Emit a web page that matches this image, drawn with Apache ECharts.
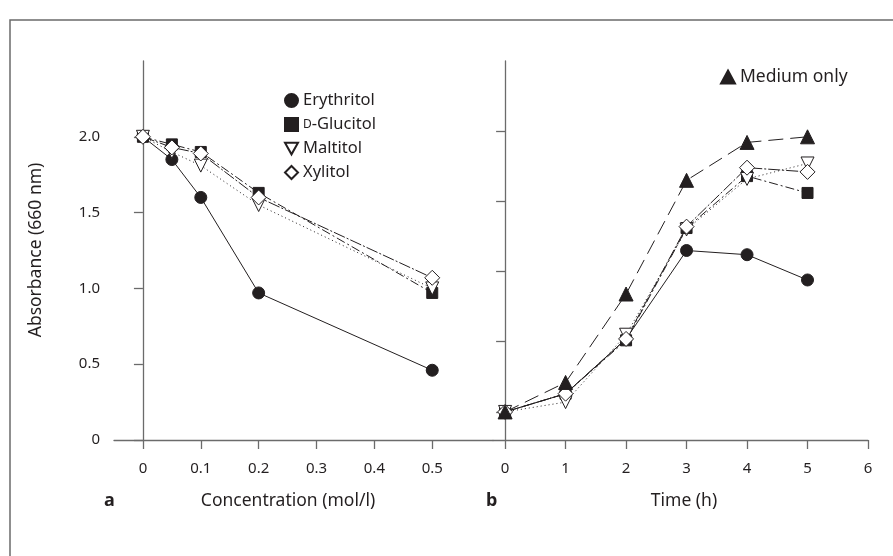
<!DOCTYPE html>
<html>
<head>
<meta charset="utf-8">
<script src="https://cdn.jsdelivr.net/npm/echarts@6/dist/echarts.min.js"></script>
<style>
  html, body { margin: 0; padding: 0; background: #fff; }
  #chart { width: 893px; height: 556px; }
</style>
</head>
<body>
<div id="chart"></div>
<script>
// panel a: absorbance vs sugar alcohol concentration
var concentration = [0, 0.05, 0.1, 0.2, 0.5];
var concErythritol = [2.0, 1.85, 1.60, 0.97, 0.46];
var concGlucitol   = [2.0, 1.95, 1.90, 1.63, 0.97];
var concMaltitol   = [2.0, 1.90, 1.81, 1.55, 1.00];
var concXylitol    = [2.0, 1.93, 1.89, 1.60, 1.07];

// panel b: absorbance vs time (axis is unlabelled in the figure)
var hours = [0, 1, 2, 3, 4, 5];
var timeErythritol = [0.20, 0.33, 0.72, 1.35, 1.32, 1.14];
var timeGlucitol   = [0.20, 0.33, 0.71, 1.51, 1.88, 1.76];
var timeMaltitol   = [0.20, 0.27, 0.75, 1.50, 1.86, 1.97];
var timeXylitol    = [0.20, 0.33, 0.72, 1.52, 1.94, 1.91];
var timeMedium     = [0.20, 0.41, 1.04, 1.85, 2.12, 2.16];

// ticks
var concTicks = [0, 0.1, 0.2, 0.3, 0.4, 0.5];
var absTicks = [0, 0.5, 1.0, 1.5, 2.0];
var hourTicks = [0, 1, 2, 3, 4, 5, 6];
var rightTicks = [0.2, 0.7, 1.2, 1.7, 2.2];

var ink = '#231f20';
var axisGrey = '#6b6b6b';
var font = 'Noto Sans';

function pairs(xs, ys) {
  return xs.map(function (x, i) { return [x, ys[i]]; });
}

var styles = {
  'Erythritol': { symbol: 'circle', size: 12, fill: ink, dash: 'solid' },
  'D-Glucitol': { symbol: 'rect', size: 11, fill: ink, dash: [9, 3, 2, 3] },
  'Maltitol':   { symbol: 'triangle', size: 13, fill: '#fff', dash: [1, 3], rotate: 180 },
  'Xylitol':    { symbol: 'diamond', size: 15, fill: '#fff', dash: [12, 2, 2, 2] },
  'Medium only':{ symbol: 'triangle', size: 14, fill: ink, dash: [15, 7] }
};

function makeSeries(name, idx, data) {
  var s = styles[name];
  return {
    name: name,
    type: 'line',
    xAxisIndex: idx,
    yAxisIndex: idx,
    data: data,
    symbol: s.symbol,
    symbolSize: s.size,
    symbolRotate: s.rotate || 0,
    showAllSymbol: true,
    itemStyle: { color: s.fill, borderColor: ink, borderWidth: 1 },
    lineStyle: { color: ink, width: 1, type: s.dash },
    emphasis: { disabled: true },
    animation: false
  };
}

var chart = echarts.init(document.getElementById('chart'));

var axisCommon = {
  axisLine: { show: true, lineStyle: { color: axisGrey, width: 1.3 } },
  axisTick: { show: true, inside: false, length: 9, lineStyle: { color: axisGrey, width: 1.3 } },
  splitLine: { show: false },
  axisLabel: { color: ink, fontFamily: font, fontSize: 15 }
};

function axis(extra) {
  return echarts.util.merge(echarts.util.clone(axisCommon), extra, true);
}

var option = {
  backgroundColor: '#fff',
  textStyle: { fontFamily: font, color: ink },
  grid: [
    { left: 114, top: 61, width: 379, height: 379 },
    { left: 493, top: 61, width: 375, height: 379 }
  ],
  xAxis: [
    axis({
      gridIndex: 0, type: 'value', min: -0.05, max: 0.605,
      axisTick: { customValues: concTicks },
      axisLabel: { customValues: concTicks, margin: 21, formatter: function (v) { return v === 0 ? '0' : String(v); } }
    }),
    axis({
      gridIndex: 1, type: 'value', min: -0.2, max: 6,
      axisTick: { customValues: hourTicks },
      axisLabel: { customValues: hourTicks, margin: 21 }
    })
  ],
  yAxis: [
    axis({
      gridIndex: 0, type: 'value', min: 0, max: 2.5,
      axisTick: { customValues: absTicks },
      axisLabel: { customValues: absTicks, margin: 14, formatter: function (v) { return v === 0 ? '0' : v.toFixed(1); } }
    }),
    axis({
      gridIndex: 1, type: 'value', min: 0, max: 2.7,
      axisTick: { customValues: rightTicks },
      axisLabel: { show: false }
    })
  ],
  legend: [
    {
      orient: 'vertical', left: 284, top: 92, padding: 0,
      itemWidth: 13, itemHeight: 13, itemGap: 7,
      selectedMode: false,
      textStyle: { fontFamily: font, fontSize: 16.5, color: ink, rich: { sc: { fontSize: 12, fontFamily: font, color: ink } } },
      formatter: function (name) { return name === 'D-Glucitol' ? '{sc|D}-Glucitol' : name; },
      data: [
        { name: 'Erythritol', icon: 'circle' },
        { name: 'D-Glucitol', icon: 'rect' },
        { name: 'Maltitol', icon: 'path://M0,0L10,0L5,9Z' },
        { name: 'Xylitol', icon: 'diamond' }
      ]
    },
    {
      left: 720, top: 68, padding: 0,
      itemWidth: 14, itemHeight: 13,
      selectedMode: false,
      textStyle: { fontFamily: font, fontSize: 17.5, color: ink },
      data: [{ name: 'Medium only', icon: 'triangle' }]
    }
  ],
  graphic: [
    { type: 'rect', shape: { x: 10, y: 20, width: 900, height: 600 },
      style: { fill: 'none', stroke: '#6b6b6b', lineWidth: 1.5 }, silent: true },
    { type: 'text', x: 288, y: 501, style: { text: 'Concentration (mol/l)', fontFamily: font, fontSize: 17.5, fill: ink, align: 'center', verticalAlign: 'middle' } },
    { type: 'text', x: 684, y: 501, style: { text: 'Time (h)', fontFamily: font, fontSize: 17.5, fill: ink, align: 'center', verticalAlign: 'middle' } },
    { type: 'text', x: 104, y: 501, style: { text: 'a', fontFamily: font, fontSize: 18, fontWeight: 'bold', fill: ink, verticalAlign: 'middle' } },
    { type: 'text', x: 486, y: 501, style: { text: 'b', fontFamily: font, fontSize: 18, fontWeight: 'bold', fill: ink, verticalAlign: 'middle' } },
    { type: 'text', x: 36, y: 250, rotation: Math.PI / 2,
      style: { text: 'Absorbance (660 nm)', fontFamily: font, fontSize: 17.5, fill: ink, align: 'center', verticalAlign: 'middle' } }
  ],
  series: [
    makeSeries('Erythritol', 0, pairs(concentration, concErythritol)),
    makeSeries('D-Glucitol', 0, pairs(concentration, concGlucitol)),
    makeSeries('Maltitol', 0, pairs(concentration, concMaltitol)),
    makeSeries('Xylitol', 0, pairs(concentration, concXylitol)),
    makeSeries('Erythritol', 1, pairs(hours, timeErythritol)),
    makeSeries('D-Glucitol', 1, pairs(hours, timeGlucitol)),
    makeSeries('Maltitol', 1, pairs(hours, timeMaltitol)),
    makeSeries('Xylitol', 1, pairs(hours, timeXylitol)),
    makeSeries('Medium only', 1, pairs(hours, timeMedium))
  ]
};

chart.setOption(option);
</script>
</body>
</html>
